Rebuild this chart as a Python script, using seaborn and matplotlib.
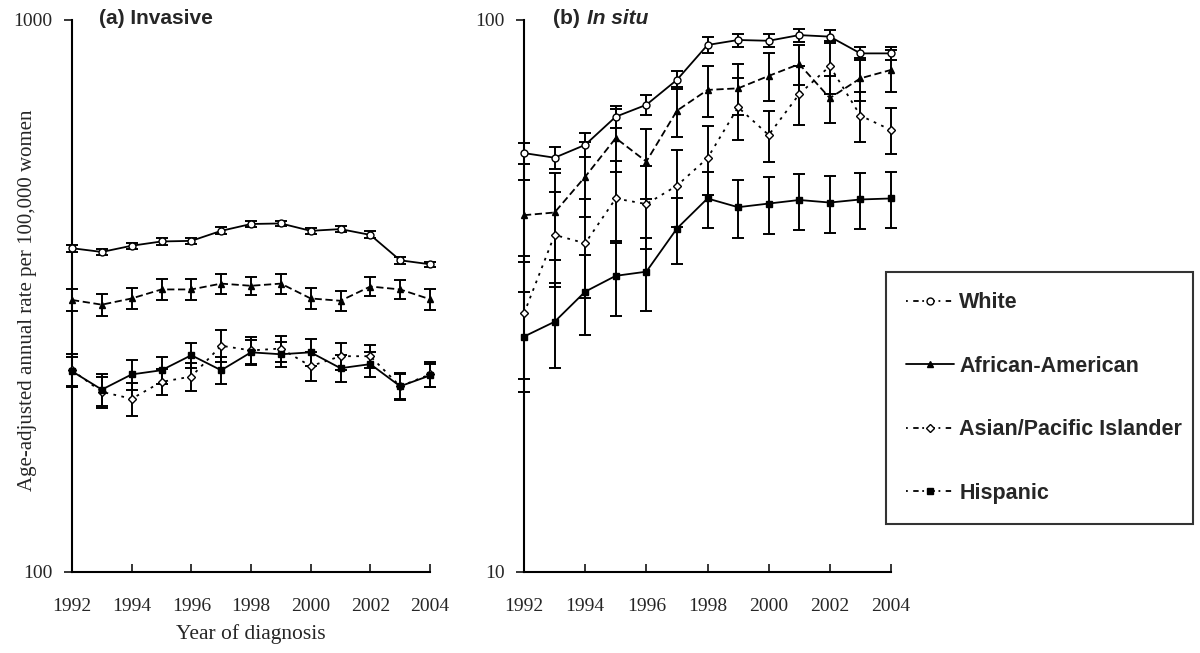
import pandas as pd
import matplotlib
matplotlib.use("Agg")
import matplotlib.pyplot as plt
from matplotlib.lines import Line2D
import seaborn as sns

years = list(range(1992, 2005))
groups = ["White", "African-American", "Asian/Pacific Islander", "Hispanic"]

# (a) invasive
inv_white = [386, 380, 390, 397, 398, 415, 427, 428, 415, 418, 408, 367, 361]
inv_white_err = [6, 5, 5, 5, 5, 6, 5, 5, 5, 5, 6, 5, 4]
inv_black = [311, 305, 313, 325, 325, 333, 330, 333, 313, 310, 329, 325, 312]
inv_black_err = [14, 14, 14, 14, 14, 14, 13, 14, 14, 13, 13, 13, 14]
inv_asian = [232, 212, 206, 221, 226, 257, 252, 254, 236, 246, 246, 217, 228]
inv_asian_err = [16, 14, 14, 12, 13, 17, 14, 14, 14, 14, 12, 12, 12]
inv_hisp = [231, 214, 228, 232, 247, 232, 250, 248, 250, 234, 238, 217, 227]
inv_hisp_err = [14, 14, 14, 13, 13, 13, 13, 13, 14, 13, 12, 11, 11]

# (b) in situ
situ_white = [57.4, 56.3, 59.4, 66.8, 70.2, 77.9, 90.1, 92.0, 91.7, 93.9, 93.3, 87.0, 87.0]
situ_white_err = [2.5, 2.5, 3, 3, 3, 3, 3, 2.5, 2.5, 2.5, 2.5, 2.5, 2.5]
situ_black = [44.3, 44.8, 52.0, 61.1, 55.4, 68.5, 74.7, 75.2, 79.2, 83.2, 72.2, 78.4, 81.2]
situ_black_err = [7, 8, 8, 8, 8, 7, 8, 8, 8, 7, 7, 7, 7]
situ_asian = [29.4, 40.8, 39.4, 47.5, 46.4, 50.1, 56.2, 69.5, 61.9, 73.4, 82.5, 67.1, 63.2]
situ_asian_err = [7, 8, 8, 8, 8, 8, 8, 9, 6.5, 9, 9, 7, 6]
situ_hisp = [26.7, 28.4, 32.2, 34.4, 35.0, 41.9, 47.5, 45.8, 46.5, 47.2, 46.7, 47.3, 47.5]
situ_hisp_err = [5.5, 5, 5.3, 5.3, 5.3, 5.7, 5.5, 5.5, 5.5, 5.5, 5.5, 5.5, 5.5]

styles = {
    "White": dict(ls="-", marker="o", mfc="white", ms=5),
    "African-American": dict(ls=(0, (4, 2)), marker="^", mfc="black", ms=5),
    "Asian/Pacific Islander": dict(ls=(0, (1.5, 3)), marker="D", mfc="white", ms=4.5),
    "Hispanic": dict(ls="-", marker="s", mfc="black", ms=5),
}

sns.set_style("ticks")
plt.rcParams["font.family"] = ["Liberation Serif", "DejaVu Serif"]

fig = plt.figure(figsize=(12, 6.53), dpi=100)
ax1 = fig.add_axes([72 / 1200, 81 / 653, 358 / 1200, 552 / 653])
ax2 = fig.add_axes([524 / 1200, 81 / 653, 367 / 1200, 552 / 653])

panels = [
    (ax1, [inv_white, inv_black, inv_asian, inv_hisp],
     [inv_white_err, inv_black_err, inv_asian_err, inv_hisp_err], (100, 1000)),
    (ax2, [situ_white, situ_black, situ_asian, situ_hisp],
     [situ_white_err, situ_black_err, situ_asian_err, situ_hisp_err], (10, 100)),
]

for ax, vals, errs, ylim in panels:
    for g, v, e in zip(groups, vals, errs):
        st = styles[g]
        ax.errorbar(years, v, yerr=e, fmt="none", ecolor="black", elinewidth=1.4,
                    capsize=4, capthick=1.4, clip_on=False, zorder=2)
        sns.lineplot(x=years, y=v, ax=ax, color="black", linewidth=1.3,
                     linestyle=st["ls"], marker=st["marker"], markersize=st["ms"],
                     markerfacecolor=st["mfc"], markeredgecolor="black",
                     markeredgewidth=1, clip_on=False, zorder=3)
    ax.set_yscale("log")
    ax.set_ylim(*ylim)
    ax.set_xlim(1992, 2004)
    ax.set_yticks(list(ylim))
    ax.set_yticklabels([str(t) for t in ylim])
    ax.minorticks_off()
    ax.set_xticks(range(1992, 2005, 2))
    ax.set_xticklabels([str(y) for y in range(1992, 2005, 2)])
    sns.despine(ax=ax)
    for s in ["left", "bottom"]:
        ax.spines[s].set_linewidth(1.5)
        ax.spines[s].set_color("black")
    ax.tick_params(axis="x", direction="in", length=6, width=1.3, pad=19, labelsize=14)
    ax.tick_params(axis="y", direction="out", length=6, width=1.3, pad=8, labelsize=14)
    ax.set_xlabel("")
    ax.set_ylabel("")

ax1.set_xlabel("Year of diagnosis", fontsize=15.5, labelpad=6)
fig.text(28 / 1200, 1 - 300 / 653, "Age-adjusted annual rate per 100,000 women",
         rotation=90, ha="center", va="center", fontsize=15)

sans = ["Liberation Sans", "DejaVu Sans"]
fig.text(99 / 1200, 1 - 18 / 653, "(a) Invasive", family=sans, weight="bold",
         fontsize=15, va="center", ha="left")
fig.text(553 / 1200, 1 - 18 / 653, "(b)", family=sans, weight="bold",
         fontsize=15, va="center", ha="left")
fig.text(587 / 1200, 1 - 18 / 653, "In situ", family=sans, weight="bold",
         style="italic", fontsize=15, va="center", ha="left")

leg_ls = (0, (1, 3, 3, 2))
handles = [
    Line2D([], [], color="black", lw=1.3, ls=leg_ls, marker="o", mfc="white", mec="black", ms=5),
    Line2D([], [], color="black", lw=1.3, ls="-", marker="^", mfc="black", mec="black", ms=5),
    Line2D([], [], color="black", lw=1.3, ls=leg_ls, marker="D", mfc="white", mec="black", ms=4.5),
    Line2D([], [], color="black", lw=1.3, ls=leg_ls, marker="s", mfc="black", mec="black", ms=5),
]
leg = fig.legend(handles, groups, loc="upper left",
                 bbox_to_anchor=(886 / 1200, 1 - 523 / 653, 307 / 1200, 251 / 653),
                 mode="expand", frameon=True, fancybox=False, edgecolor="black",
                 borderpad=0.95, labelspacing=1.97, handlelength=2.2, handletextpad=0.25,
                 borderaxespad=0, prop={"family": sans, "weight": "bold", "size": 15.5})
leg.get_frame().set_linewidth(1.5)

fig.savefig("out.png", dpi=100)
